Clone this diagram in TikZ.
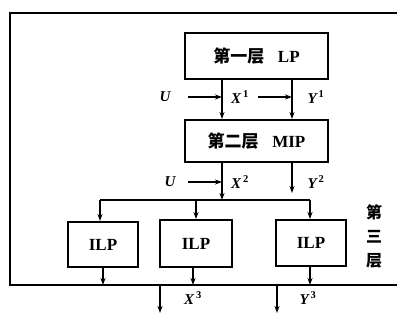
\documentclass[tikz,border=0pt]{standalone}
\usepackage{fontspec}
\setmainfont{Liberation Serif}
\newfontfamily\cjk{Noto Sans CJK SC}
\usetikzlibrary{arrows.meta}
\begin{document}
\begin{tikzpicture}[x=1pt,y=-1pt,
  box/.style={draw,line width=2pt,inner sep=0pt},
  ln/.style={line width=1.7pt},
  arr/.style={line width=1.7pt,-{Stealth[length=7pt,width=5pt]}},
  lab/.style={font=\fontsize{15}{15}\selectfont\bfseries\itshape,inner sep=0pt},
  boxtxt/.style={font=\fontsize{17}{17}\selectfont\bfseries}]
\useasboundingbox (0,0) rectangle (397,321);
% frame
\coordinate (ftr) at (397,13);
\coordinate (ftl) at (10,13);
\coordinate (fbl) at (10,285);
\coordinate (fbr) at (397,285);
\draw[ln] (ftr) -- (ftl) -- (fbl) -- (fbr);
% boxes
\node[box,minimum width=143pt,minimum height=46pt,boxtxt] (b1) at (256.5,56) {{\cjk\bfseries 第一层}\hspace{0.8em}LP};
\node[box,minimum width=143pt,minimum height=42pt,boxtxt] (b2) at (256.5,141) {{\cjk\bfseries 第二层}\hspace{0.8em}MIP};
\node[box,minimum width=70pt,minimum height=45pt,boxtxt] (i1) at (103,244.5) {ILP};
\node[box,minimum width=72pt,minimum height=47pt,boxtxt] (i2) at (196,243.5) {ILP};
\node[box,minimum width=70pt,minimum height=46pt,boxtxt] (i3) at (311,243) {ILP};
% between b1 and b2
\coordinate (xa) at (222,0);
\coordinate (xb) at (292,0);
\draw[arr] (b1.south -| xa) -- (b2.north -| xa);
\draw[arr] (b1.south -| xb) -- (b2.north -| xb);
\node[lab] (u1) at (165,97) {U};
\node[lab] (x1) at (240,97) {X$^{\,\mathbf{1}}$};
\node[lab] (y1) at (316,97) {Y$^{\,\mathbf{1}}$};
\coordinate (u1s) at (188,97);
\coordinate (u1e) at (222,97);
\coordinate (x1s) at (258,97);
\coordinate (x1e) at (292,97);
\draw[arr] (u1s) -- (u1e);
\draw[arr] (x1s) -- (x1e);
% below b2
\node[lab] (u2) at (170,182) {U};
\node[lab] (x2) at (240,182) {X$^{\,\mathbf{2}}$};
\node[lab] (y2) at (316,182) {Y$^{\,\mathbf{2}}$};
\coordinate (u2s) at (188,182);
\coordinate (u2e) at (222,182);
\draw[arr] (u2s) -- (u2e);
\coordinate (bus) at (222,200);
\coordinate (busl) at (100,200);
\coordinate (busr) at (310,200);
\draw[arr] (b2.south -| xa) -- (bus);
\coordinate (y2e) at (292,193);
\draw[arr] (b2.south -| xb) -- (y2e);
\draw[ln] (busl) -- (busr);
\draw[arr] (busl) -- (i1.north -| busl);
\draw[arr] (bus -| i2) -- (i2.north);
\draw[arr] (busr) -- (i3.north -| busr);
% below ILPs
\draw[arr] (i1.south) -- (i1.south |- fbl);
\draw[arr] (i2.south -| 193,0) -- (fbl -| 193,0);
\draw[arr] (i3.south -| busr) -- (fbl -| busr);
% outputs
\coordinate (o1) at (160,285);
\coordinate (o1e) at (160,313);
\coordinate (o2) at (277,285);
\coordinate (o2e) at (277,313);
\draw[arr] (o1) -- (o1e);
\draw[arr] (o2) -- (o2e);
\node[lab] (x3) at (193,298) {X$^{\,\mathbf{3}}$};
\node[lab] (y3) at (308,298) {Y$^{\,\mathbf{3}}$};
% third layer label
\node[font=\cjk\bfseries\fontsize{16}{16}\selectfont,align=center,inner sep=0pt] (l3) at (374,236) {第\\[8pt]三\\[8pt]层};
\end{tikzpicture}
\end{document}
